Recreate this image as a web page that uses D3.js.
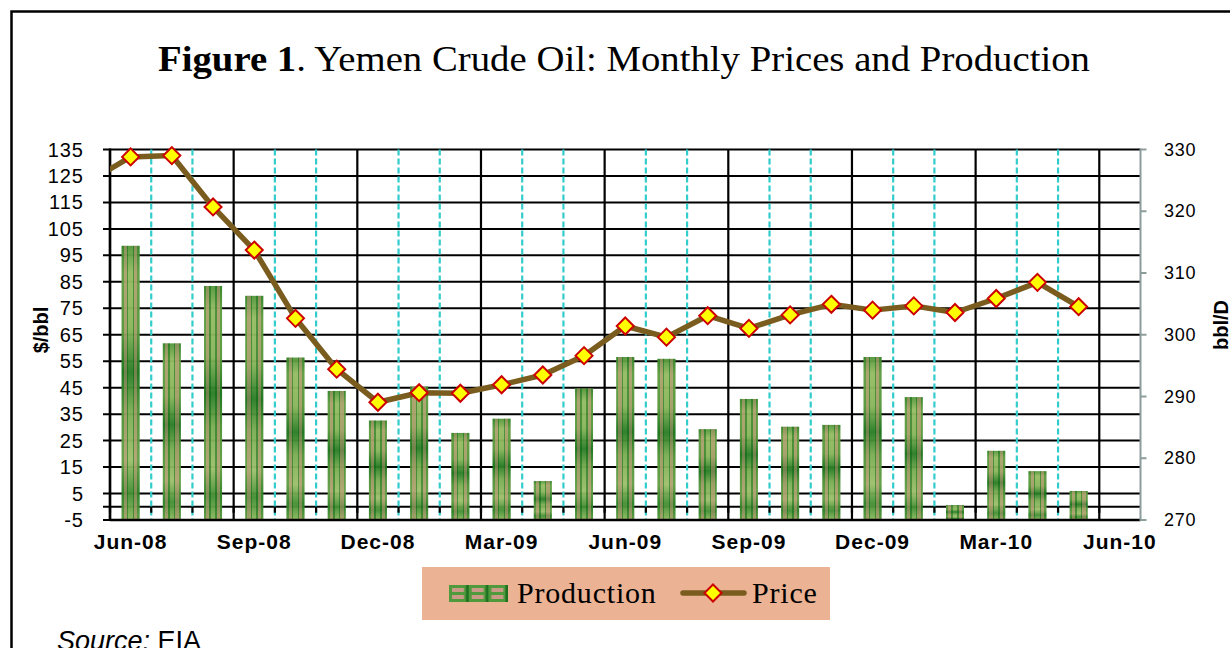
<!DOCTYPE html>
<html>
<head>
<meta charset="utf-8">
<script src="https://cdn.jsdelivr.net/npm/d3@7"></script>
<style>
  body { margin: 0; background: #fff; }
  svg { display: block; }
</style>
</head>
<body>
<svg id="chart"></svg>
<script>
var months = ["Jun-08","Jul-08","Aug-08","Sep-08","Oct-08","Nov-08","Dec-08","Jan-09","Feb-09","Mar-09",
              "Apr-09","May-09","Jun-09","Jul-09","Aug-09","Sep-09","Oct-09","Nov-09","Dec-09","Jan-10",
              "Feb-10","Mar-10","Apr-10","May-10","Jun-10"];
var tickMonths = ["Jun-08","Sep-08","Dec-08","Mar-09","Jun-09","Sep-09","Dec-09","Mar-10","Jun-10"];

// $/bbl, Jun-08 .. May-10
var price = [132.2, 132.7, 113.3, 97.0, 71.2, 52.0, 39.5, 43.1, 42.9, 46.1, 49.8, 57.1,
             68.3, 64.1, 72.2, 67.4, 72.5, 76.5, 74.3, 75.9, 73.4, 78.7, 84.8, 75.6];
var pricePrev = 123.0; // May-08, only the line segment entering the plot shows

// thousand bbl/D, Jun-08 .. May-10
var production = [314.4, 298.6, 307.9, 306.3, 296.3, 290.9, 286.1, 291.6, 284.1, 286.4, 276.3, 291.3,
                  296.4, 296.1, 284.7, 289.6, 285.1, 285.4, 296.4, 289.9, 272.4, 281.2, 277.9, 274.7];

var leftTicks = d3.range(-5, 136, 10);
var rightTicks = d3.range(270, 331, 10);

(function() {
var W = 1230, H = 648;
var pL = 110, pR = 1140.5, pT = 149.5, pB = 520;

var svg = d3.select("#chart").attr("width", W).attr("height", H);
var defs = svg.append("defs");

// bar fill: vertical green shading + vertical stripes on top
var gv = defs.append("linearGradient").attr("id", "barV").attr("x1", 0).attr("x2", 0).attr("y1", 0).attr("y2", 1);
[[0, "#3f8c2c"], [0.1, "#8fb85c"], [0.3, "#7fb052"], [0.46, "#0e6c12"], [0.6, "#6ea648"],
 [0.78, "#98bc66"], [0.9, "#2e8224"], [1, "#84b456"]].forEach(function(s) {
  gv.append("stop").attr("offset", s[0]).attr("stop-color", s[1]);
});
var gh = defs.append("linearGradient").attr("id", "barH").attr("x1", 0).attr("x2", 1).attr("y1", 0).attr("y2", 0);
[[0, "#2a7e26", 0.45], [0.12, "#2a7e26", 0.45], [0.12, "#c8907c", 0.5], [0.3, "#c8907c", 0.5],
 [0.3, "#18701c", 0.55], [0.38, "#18701c", 0.55], [0.38, "#b8d088", 0.15], [0.62, "#b8d088", 0.15],
 [0.62, "#18701c", 0.55], [0.7, "#18701c", 0.55], [0.7, "#c8907c", 0.5], [0.88, "#c8907c", 0.5],
 [0.88, "#2a7e26", 0.45], [1, "#2a7e26", 0.45]].forEach(function(s) {
  gh.append("stop").attr("offset", s[0]).attr("stop-color", s[1]).attr("stop-opacity", s[2]);
});

// legend swatch tile
var pat = defs.append("pattern").attr("id", "legTile").attr("patternUnits", "userSpaceOnUse")
  .attr("x", 449).attr("y", 585).attr("width", 19.7).attr("height", 17);
pat.append("rect").attr("width", 19.7).attr("height", 17).attr("fill", "#4f9a3c");
pat.append("rect").attr("x", 3).attr("y", 3).attr("width", 12).attr("height", 4).attr("fill", "#c99a86");
pat.append("rect").attr("x", 3).attr("y", 10).attr("width", 12).attr("height", 4).attr("fill", "#c99a86");
pat.append("rect").attr("x", 17).attr("y", 0).attr("width", 2.7).attr("height", 17).attr("fill", "#1f7020");

defs.append("clipPath").attr("id", "plotClip")
  .append("rect").attr("x", pL).attr("y", 0).attr("width", pR - pL).attr("height", H);

// outer frame
svg.append("rect").attr("x", 11.5).attr("y", 11.5).attr("width", W + 20).attr("height", H + 20)
  .attr("fill", "none").attr("stroke", "#000").attr("stroke-width", 2.5);

svg.append("text")
  .attr("x", 158).attr("y", 71)
  .attr("font-family", "'Liberation Serif', 'DejaVu Serif', serif")
  .attr("font-size", 35)
  .attr("textLength", 932).attr("lengthAdjust", "spacingAndGlyphs")
  .html("<tspan font-weight='bold'>Figure 1</tspan>. Yemen Crude Oil: Monthly Prices and Production");

var x = d3.scaleBand().domain(months).range([pL, pR]).paddingInner(0).paddingOuter(0);
var yL = d3.scaleLinear().domain([-5, 135]).range([pB, pT]);
var yR = d3.scaleLinear().domain([270, 330]).range([pB, pT]);

// horizontal grid
svg.append("g").selectAll("line").data(leftTicks.concat([0])).enter().append("line")
  .attr("x1", pL - 7).attr("x2", pR)
  .attr("y1", function(d) { return yL(d); }).attr("y2", function(d) { return yL(d); })
  .attr("stroke", "#000").attr("stroke-width", 2);

// vertical grid: quarters solid black, other months dashed cyan
var bounds = months.map(function(m, i) { return { m: m, q: i % 3 === 0 }; });
svg.append("g").selectAll("line").data(bounds.filter(function(d) { return !d.q; })).enter().append("line")
  .attr("x1", function(d) { return x(d.m); }).attr("x2", function(d) { return x(d.m); })
  .attr("y1", pT).attr("y2", pB)
  .attr("stroke", "#33cccc").attr("stroke-width", 2.2).attr("stroke-dasharray", "6,3");
svg.append("g").selectAll("line").data(bounds.filter(function(d) { return d.q; })).enter().append("line")
  .attr("x1", function(d) { return x(d.m); }).attr("x2", function(d) { return x(d.m); })
  .attr("y1", pT).attr("y2", pB + 1)
  .attr("stroke", "#000").attr("stroke-width", 2.2);
// small category ticks under the zero line
svg.append("g").selectAll("line").data(bounds).enter().append("line")
  .attr("x1", function(d) { return x(d.m); }).attr("x2", function(d) { return x(d.m); })
  .attr("y1", yL(0)).attr("y2", yL(0) + 6)
  .attr("stroke", "#000").attr("stroke-width", 2.2);

// production bars
var bw = 18;
var bars = svg.append("g").selectAll("g").data(production).enter().append("g");
bars.append("rect")
  .attr("x", function(d, i) { return x(months[i]) + x.bandwidth() / 2 - bw / 2; })
  .attr("y", function(d) { return yR(d); })
  .attr("width", bw)
  .attr("height", function(d) { return pB - yR(d); })
  .attr("fill", "url(#barV)").attr("opacity", 0.95);
bars.append("rect")
  .attr("x", function(d, i) { return x(months[i]) + x.bandwidth() / 2 - bw / 2; })
  .attr("y", function(d) { return yR(d); })
  .attr("width", bw)
  .attr("height", function(d) { return pB - yR(d); })
  .attr("fill", "url(#barH)");

// axis lines
svg.append("line").attr("x1", pL).attr("x2", pL).attr("y1", pT - 1).attr("y2", pB + 1)
  .attr("stroke", "#000").attr("stroke-width", 2.5);
svg.append("line").attr("x1", pL).attr("x2", pR).attr("y1", pB).attr("y2", pB)
  .attr("stroke", "#000").attr("stroke-width", 2.5);
svg.append("line").attr("x1", pR).attr("x2", pR).attr("y1", pT - 1).attr("y2", pB + 1)
  .attr("stroke", "#8c9c9c").attr("stroke-width", 2);
svg.append("g").selectAll("line").data(rightTicks).enter().append("line")
  .attr("x1", pR).attr("x2", pR + 6)
  .attr("y1", function(d) { return yR(d); }).attr("y2", function(d) { return yR(d); })
  .attr("stroke", "#8c9c9c").attr("stroke-width", 2);

// price line
var pts = [{ cx: x(months[0]) - x.step() + x.bandwidth() / 2, v: pricePrev }].concat(
  price.map(function(v, i) { return { cx: x(months[i]) + x.bandwidth() / 2, v: v }; }));
var line = d3.line().x(function(d) { return d.cx; }).y(function(d) { return yL(d.v); });
svg.append("path").datum(pts).attr("d", line)
  .attr("clip-path", "url(#plotClip)")
  .attr("fill", "none").attr("stroke", "#7a5c1f").attr("stroke-width", 5.5).attr("stroke-linejoin", "round");

var diamond = "M0,-8.5L8.5,0L0,8.5L-8.5,0Z";
svg.append("g").selectAll("path").data(pts.slice(1)).enter().append("path")
  .attr("d", diamond)
  .attr("transform", function(d) { return "translate(" + d.cx + "," + yL(d.v) + ")"; })
  .attr("fill", "#ffff00").attr("stroke", "#cc0000").attr("stroke-width", 2);

// tick labels
var sans = "'Liberation Sans', Arial, sans-serif";
svg.append("g").selectAll("text").data(leftTicks).enter().append("text")
  .attr("x", 84).attr("y", function(d) { return yL(d) + 7; })
  .attr("text-anchor", "end").attr("font-family", sans).attr("font-size", 20).attr("letter-spacing", 1)
  .text(function(d) { return d; });
svg.append("g").selectAll("text").data(rightTicks).enter().append("text")
  .attr("x", 1164).attr("y", function(d) { return yR(d) + 6; })
  .attr("font-family", sans).attr("font-size", 18).attr("letter-spacing", 0.8)
  .text(function(d) { return d; });
svg.append("g").selectAll("text").data(tickMonths).enter().append("text")
  .attr("x", function(d) { return x(d) + x.bandwidth() / 2; }).attr("y", 549)
  .attr("text-anchor", "middle").attr("font-family", sans).attr("font-size", 21)
  .attr("font-weight", "bold").attr("letter-spacing", 1)
  .text(function(d) { return d; });

svg.append("text").attr("transform", "translate(48,330) rotate(-90)")
  .attr("text-anchor", "middle").attr("font-family", sans).attr("font-size", 20).attr("font-weight", "bold")
  .text("$/bbl");
svg.append("text").attr("transform", "translate(1228,325) rotate(-90)")
  .attr("text-anchor", "middle").attr("font-family", sans).attr("font-size", 20).attr("font-weight", "bold")
  .text("bbl/D");

// legend
var serif = "'Liberation Serif', 'DejaVu Serif', serif";
svg.append("rect").attr("x", 422).attr("y", 567).attr("width", 408).attr("height", 53).attr("fill", "#ebb293");
svg.append("rect").attr("x", 449).attr("y", 585).attr("width", 59).attr("height", 17).attr("fill", "url(#legTile)");
svg.append("text").attr("x", 517).attr("y", 603).attr("font-family", serif).attr("font-size", 30)
  .attr("letter-spacing", 0.8).text("Production");
svg.append("line").attr("x1", 683).attr("x2", 744).attr("y1", 593).attr("y2", 593)
  .attr("stroke", "#7a5c1f").attr("stroke-width", 5.5).attr("stroke-linecap", "round");
svg.append("path").attr("d", diamond).attr("transform", "translate(713,593)")
  .attr("fill", "#ffff00").attr("stroke", "#cc0000").attr("stroke-width", 2);
svg.append("text").attr("x", 752).attr("y", 603).attr("font-family", serif).attr("font-size", 30)
  .attr("letter-spacing", 0.8).text("Price");

svg.append("text").attr("x", 57).attr("y", 650).attr("font-family", sans).attr("font-size", 27)
  .html("<tspan font-style='italic'>Source:</tspan> EIA");
})();
</script>
</body>
</html>
